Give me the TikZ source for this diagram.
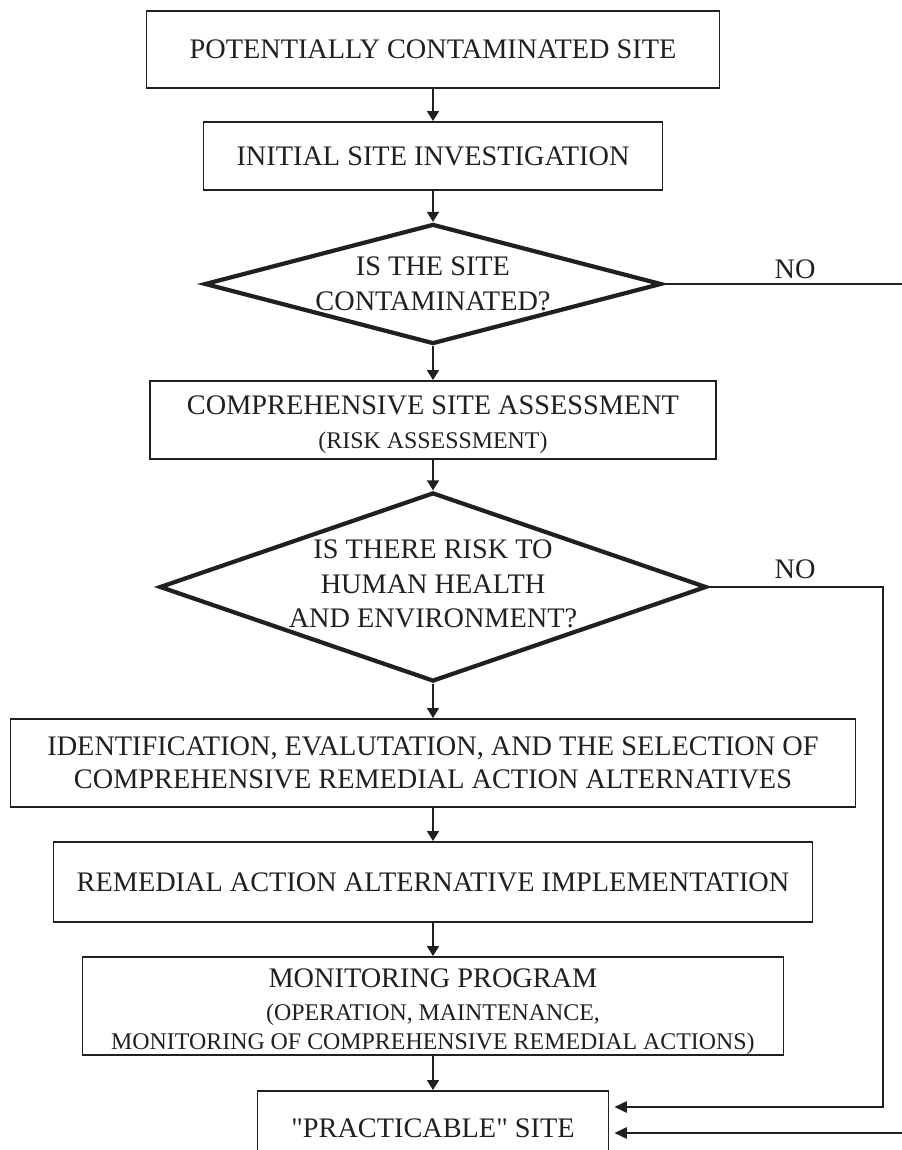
\documentclass[tikz,border=0pt]{standalone}
\usepackage{fontspec}
\setmainfont{Liberation Serif}
\usetikzlibrary{arrows.meta, shapes.geometric}

\definecolor{ink}{HTML}{231F20}
\newcommand\smalltxt{\fontsize{13.6}{16}\selectfont}

\begin{document}
\begin{tikzpicture}[
    >=Triangle,
    box/.style={draw=ink, text=ink, line width=1.1pt, inner sep=0pt, align=center, font=\fontsize{16.1}{18.8}\selectfont},
    decision/.style={draw=ink, diamond, line width=2.4pt, inner sep=0pt},
    dtext/.style={text=ink, align=center, font=\fontsize{16.1}{19.6}\selectfont},
    lbl/.style={text=ink, font=\fontsize{16.1}{18.8}\selectfont},
    arr/.style={-{Triangle[length=5.7pt, width=6.8pt]}, ink, line width=1.1pt},
    side/.style={-{Triangle[length=7pt, width=6.4pt]}, ink, line width=0.9pt, shorten >=1mm}
]

% ---------- Frame ----------
\clip (0,0) rectangle (18.04,23);

% ---------- Nodes ----------
\node[box, minimum width=11.46cm, minimum height=1.54cm] (potsite)     at (8.66,22.01) {POTENTIALLY CONTAMINATED SITE};
\node[box, minimum width=9.18cm,  minimum height=1.36cm] (initinv)     at (8.66,19.88) {INITIAL SITE INVESTIGATION};
\node[decision, minimum width=9.14cm, minimum height=2.4cm] (iscont)   at (8.66,17.32) {};
\node[box, minimum width=11.32cm, minimum height=1.56cm] (compassess)  at (8.66,14.6)
    {\rule{0pt}{16pt}COMPREHENSIVE SITE ASSESSMENT\\[0pt]{\smalltxt (RISK ASSESSMENT)}};
\node[decision, minimum width=10.94cm, minimum height=3.78cm] (isrisk) at (8.66,11.26) {};
\node[box, minimum width=16.9cm,  minimum height=1.76cm] (identify)    at (8.66,7.74)
    {IDENTIFICATION, EVALUTATION, AND THE SELECTION OF\\COMPREHENSIVE REMEDIAL ACTION ALTERNATIVES};
\node[box, minimum width=15.18cm, minimum height=1.6cm]  (implement)   at (8.66,5.36) {REMEDIAL ACTION ALTERNATIVE IMPLEMENTATION};
\node[box, minimum width=14.02cm, minimum height=1.96cm] (monitor)     at (8.66,2.88)
    {\rule{0pt}{17.5pt}MONITORING PROGRAM\\{\smalltxt (OPERATION, MAINTENANCE,}\\[-2.3pt]{\smalltxt MONITORING OF COMPREHENSIVE REMEDIAL ACTIONS)}};
\node[box, minimum width=7.02cm,  minimum height=1.48cm] (practicable) at (8.66,0.44) {\textquotedbl PRACTICABLE\textquotedbl{} SITE};

% ---------- Decision texts ----------
\node[dtext] (isconttxt) at (iscont) {IS THE SITE\\CONTAMINATED?};
\node[dtext] (isrisktxt) at ([yshift=0.06cm]isrisk) {IS THERE RISK TO\\HUMAN HEALTH\\AND ENVIRONMENT?};

% ---------- NO branches ----------
\node[lbl] (nocont) at (15.9,17.62) {NO};
\node[lbl] (norisk) at (15.9,11.62) {NO};
\coordinate (contturn) at (18.4,17.32);
\coordinate (riskturn) at (17.66,11.26);

% ---------- Main flow ----------
\draw[arr] (potsite) -- (initinv);
\draw[arr] (initinv) -- (iscont);
\draw[arr] (iscont) -- (compassess);
\draw[arr] (compassess) -- (isrisk);
\draw[arr] (isrisk) -- (identify);
\draw[arr] (identify) -- (implement);
\draw[arr] (implement) -- (monitor);
\draw[arr] (monitor) -- (practicable);

\draw[side] (iscont.east) -- (contturn) |- ([yshift=-1mm]practicable.east);
\draw[side] (isrisk.east) -- (riskturn) |- ([yshift=4.2mm]practicable.east);

\end{tikzpicture}
\end{document}
